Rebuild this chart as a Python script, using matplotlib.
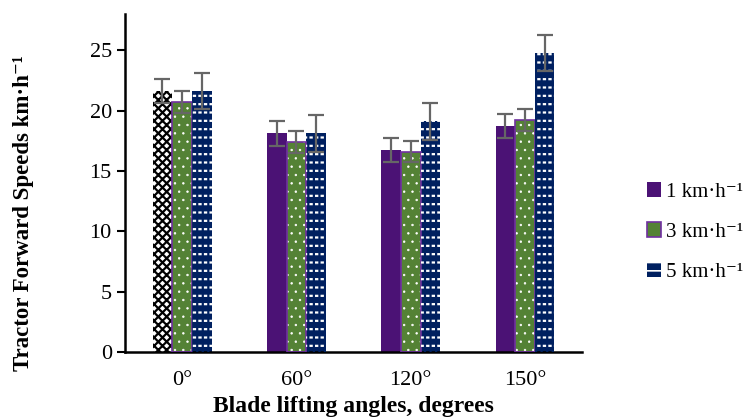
import numpy as np
import matplotlib
matplotlib.use("Agg")
import matplotlib.pyplot as plt
from matplotlib.patches import Patch

# Data
angles = ["0°", "60°", "120°", "150°"]
speed_labels = ["1 km·h⁻¹", "3 km·h⁻¹", "5 km·h⁻¹"]
speed_1 = [21.6, 18.1, 16.7, 18.7]
speed_3 = [20.7, 17.4, 16.6, 19.2]
speed_5 = [21.6, 18.1, 19.1, 24.8]
err_1 = [1.0, 1.0, 1.0, 1.0]
err_3 = [0.9, 0.9, 0.9, 0.9]
err_5 = [1.5, 1.5, 1.5, 1.5]

plt.rcParams['font.family'] = ['Liberation Serif', 'DejaVu Serif']

fig = plt.figure(figsize=(7.47, 4.19), dpi=100)
ax = fig.add_axes([0.1673, 0.16, 0.612, 0.8066])

x = np.arange(len(angles))
w = 0.172
purple = '#4B1275'
green = '#548235'
navy = '#002060'
edge_purple = '#7030A0'
err_kw = dict(ecolor='#666666', elinewidth=1.6, capsize=5.5, capthick=1.6)

# series 1: purple, except 0 deg which is a checker pattern
plt.rcParams['hatch.linewidth'] = 1.6
for i in range(len(angles)):
    if i == 0:
        ax.bar(x[i] - w, speed_1[i], w, color='white', edgecolor='black',
               linewidth=0, hatch='xxxx', zorder=2)
    else:
        ax.bar(x[i] - w, speed_1[i], w, color=purple, linewidth=0, zorder=2)
ax.errorbar(x - w, speed_1, yerr=err_1, fmt='none', zorder=4, **err_kw)

# series 2: green with small white dots, purple border
ax.bar(x, speed_3, w, color=green, linewidth=0, zorder=2)
plt.rcParams['hatch.linewidth'] = 0.5
ax.bar(x, speed_3, w, color='none', edgecolor='white', linewidth=0,
       hatch='..', zorder=3)
ax.bar(x, speed_3, w, color='none', edgecolor=edge_purple, linewidth=1.2, zorder=3)
ax.errorbar(x, speed_3, yerr=err_3, fmt='none', zorder=4, **err_kw)

# series 3: navy with white dashes
plt.rcParams['hatch.linewidth'] = 1.6
ax.bar(x + w, speed_5, w, color=navy, linewidth=0, zorder=2)
ax.bar(x + w, speed_5, w, color='none', edgecolor='white', linewidth=0,
       hatch='--', zorder=3)
ax.bar(x + w, speed_5, w, color='none', edgecolor=navy, linewidth=0,
       hatch='|||', zorder=3)
ax.errorbar(x + w, speed_5, yerr=err_5, fmt='none', zorder=4, **err_kw)

ax.set_xlim(-0.5, 3.5)
ax.set_ylim(0, 28)
ax.set_yticks([0, 5, 10, 15, 20, 25])
ax.set_xticks(x)
ax.set_xticklabels(angles)
ax.tick_params(axis='y', labelsize=16, length=6, width=1.5, direction='out')
ax.tick_params(axis='x', labelsize=16, length=0, pad=14)
for side in ['top', 'right']:
    ax.spines[side].set_visible(False)
for side in ['left', 'bottom']:
    ax.spines[side].set_linewidth(1.8)

ax.set_ylabel("Tractor Forward Speeds km·h⁻¹", fontsize=16.5, fontweight='bold')
ax.yaxis.set_label_coords(-0.2, 0.41)
ax.set_xlabel("Blade lifting angles, degrees", fontsize=17, fontweight='bold', labelpad=4)

plt.rcParams['hatch.linewidth'] = 1.2
handles = [
    Patch(facecolor=purple, edgecolor='none'),
    Patch(facecolor=green, edgecolor=edge_purple, linewidth=1.2),
    Patch(facecolor=navy, edgecolor='white', hatch='--', linewidth=0),
]
leg = fig.legend(handles, speed_labels, loc='center left', bbox_to_anchor=(0.866, 0.446),
                 frameon=False, fontsize=15, handlelength=0.7, handleheight=0.7,
                 handletextpad=0.2, labelspacing=1.0, borderaxespad=0, borderpad=0)

fig.savefig("out.png", dpi=100)
